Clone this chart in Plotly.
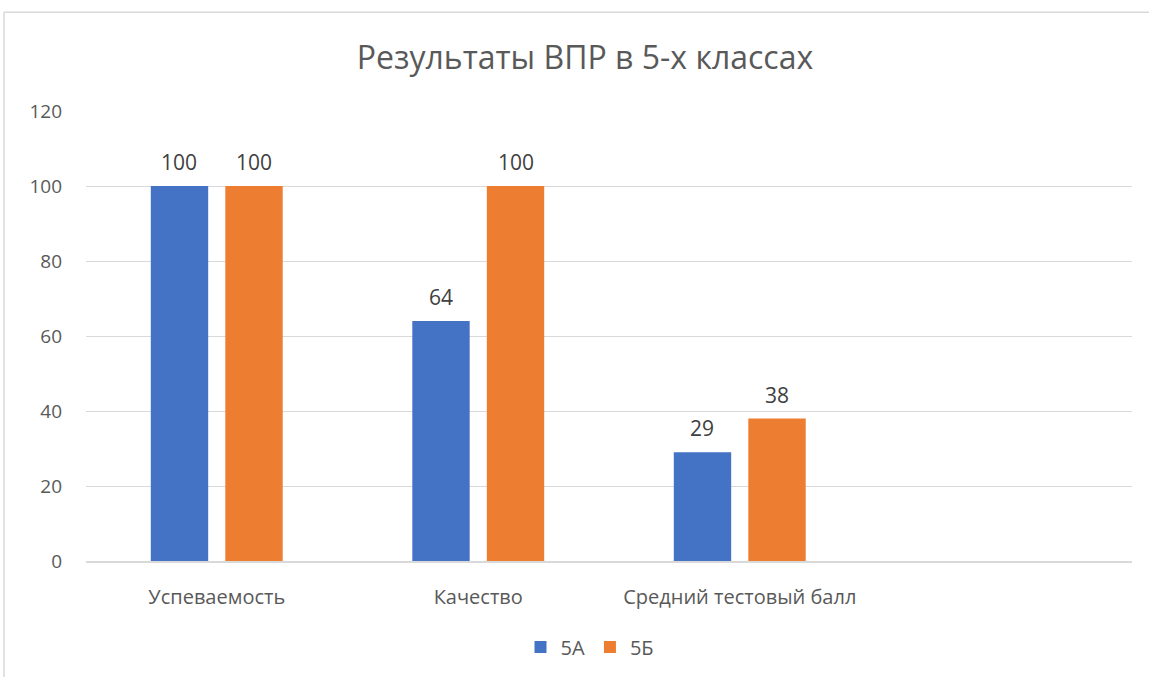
import plotly.graph_objects as go

categories = ["Успеваемость", "Качество", "Средний тестовый балл", " "]
series_names = ["5А", "5Б"]
values_5a = [100, 64, 29, None]
values_5b = [100, 100, 38, None]
colors = ["#4472C4", "#ED7D31"]
title = "Результаты ВПР в 5-х классах"
y_ticks = [0, 20, 40, 60, 80, 100, 120]

FONT = "Open Sans, Segoe UI, sans-serif"
W, H = 1149, 677
L, R, T, B = 86, 17, 111, 115
pw, ph = W - L - R, H - T - B

fig = go.Figure()
for name, vals, col in zip(series_names, [values_5a, values_5b], colors):
    fig.add_trace(go.Bar(x=categories, y=vals, name=name, marker=dict(color=col, line=dict(width=0))))

# data labels
slot_px = pw / len(categories) * (1 - 0.43) / 2
for i, vals in enumerate([values_5a, values_5b]):
    shift = (i - 0.5) * slot_px
    for c, v in zip(categories, vals):
        if v is None:
            continue
        fig.add_annotation(x=c, y=v, text=str(v), showarrow=False, xshift=shift, yshift=24,
                           font=dict(family=FONT, size=21, color="#404040"))

# chart border (top and left visible)
x0 = (4 - L) / pw
y1 = (H - B - 12) / ph
fig.add_shape(type="line", xref="paper", yref="paper", x0=x0, x1=(W - L) / pw + 0.01, y0=y1, y1=y1,
              line=dict(color="#D9D9D9", width=1.5))
fig.add_shape(type="line", xref="paper", yref="paper", x0=x0, x1=x0, y0=-(B + 5) / ph, y1=y1,
              line=dict(color="#D9D9D9", width=1.5))

fig.update_layout(
    width=W, height=H,
    margin=dict(l=L, r=R, t=T, b=B),
    paper_bgcolor="white", plot_bgcolor="white",
    title=dict(text=title, x=585 / W, xref="container", xanchor="center", y=1 - 58 / H, yanchor="middle",
               font=dict(family=FONT, size=32, color="#595959")),
    barmode="group", bargap=0.43, bargroupgap=0.23,
    showlegend=True,
    legend=dict(orientation="h", x=(590 - L) / pw, xanchor="center", y=-(647 - (H - B)) / ph, yanchor="middle",
                font=dict(family=FONT, size=20, color="#595959"), itemwidth=30, traceorder="normal"),
    font=dict(family=FONT, color="#595959"),
)
fig.update_yaxes(range=[0, 120], tickvals=y_ticks, showgrid=True, gridcolor="#D9D9D9", gridwidth=1,
                 zeroline=False, showline=False, ticks="", ticklabelstandoff=23,
                 tickfont=dict(family=FONT, size=19, color="#595959"))
fig.update_xaxes(showline=True, linecolor="#D9D9D9", linewidth=1.5, ticks="", ticklabelstandoff=17,
                 tickfont=dict(family=FONT, size=20, color="#595959"))

fig.write_html("out.html", config={"displayModeBar": False},
               post_script="document.body.style.margin='0';document.body.style.overflow='hidden';")
